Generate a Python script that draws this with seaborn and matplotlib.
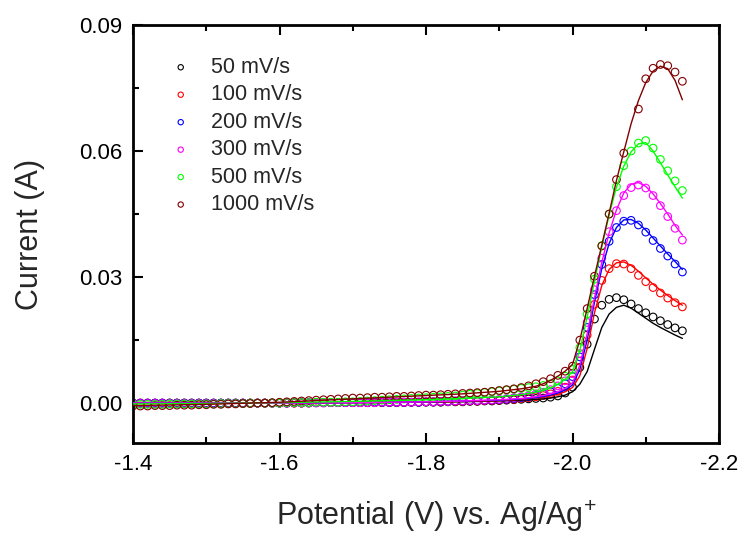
import numpy as np
import pandas as pd
import matplotlib
matplotlib.use('Agg')
import matplotlib.pyplot as plt
import seaborn as sns
from matplotlib.ticker import MultipleLocator, FormatStrFormatter

# potential grid of the measured points (V vs. Ag/Ag+)
potential = [
    -1.40, -1.41, -1.42, -1.43, -1.44, -1.45, -1.46, -1.47, -1.48, -1.49,
    -1.50, -1.51, -1.52, -1.53, -1.54, -1.55, -1.56, -1.57, -1.58, -1.59,
    -1.60, -1.61, -1.62, -1.63, -1.64, -1.65, -1.66, -1.67, -1.68, -1.69,
    -1.70, -1.71, -1.72, -1.73, -1.74, -1.75, -1.76, -1.77, -1.78, -1.79,
    -1.80, -1.81, -1.82, -1.83, -1.84, -1.85, -1.86, -1.87, -1.88, -1.89,
    -1.90, -1.91, -1.92, -1.93, -1.94, -1.95, -1.96, -1.97, -1.98, -1.99,
    -2.00, -2.01, -2.02, -2.03, -2.04, -2.05, -2.06, -2.07, -2.08, -2.09,
    -2.10, -2.11, -2.12, -2.13, -2.14, -2.15,
]

# measured current (A)
i_50 = [
    0.0000, 0.0000, 0.0000, 0.0000, 0.0000, 0.0000, 0.0000, 0.0000, 0.0000, 0.0000,
    0.0000, 0.0000, 0.0000, 0.0000, 0.0000, 0.0000, 0.0000, 0.0000, 0.0000, 0.0000,
    0.0000, 0.0000, 0.0000, 0.0000, 0.0000, 0.0001, 0.0001, 0.0001, 0.0001, 0.0001,
    0.0001, 0.0001, 0.0001, 0.0001, 0.0001, 0.0001, 0.0001, 0.0001, 0.0002, 0.0002,
    0.0002, 0.0002, 0.0002, 0.0003, 0.0003, 0.0003, 0.0004, 0.0004, 0.0005, 0.0005,
    0.0006, 0.0007, 0.0008, 0.0009, 0.0010, 0.0011, 0.0012, 0.0014, 0.0017, 0.0024,
    0.0038, 0.0085, 0.0140, 0.0200, 0.0233, 0.0247, 0.0251, 0.0246, 0.0236, 0.0225,
    0.0215, 0.0205, 0.0196, 0.0187, 0.0179, 0.0172,
]
i_100 = [
    0.0000, 0.0000, 0.0000, 0.0000, 0.0000, 0.0000, 0.0000, 0.0000, 0.0000, 0.0000,
    0.0000, 0.0000, 0.0000, 0.0000, 0.0000, 0.0000, 0.0000, 0.0000, 0.0000, 0.0000,
    0.0000, 0.0000, 0.0000, 0.0000, 0.0001, 0.0001, 0.0001, 0.0001, 0.0001, 0.0001,
    0.0001, 0.0001, 0.0001, 0.0001, 0.0002, 0.0002, 0.0002, 0.0002, 0.0002, 0.0002,
    0.0003, 0.0003, 0.0003, 0.0004, 0.0004, 0.0004, 0.0005, 0.0005, 0.0006, 0.0006,
    0.0007, 0.0008, 0.0009, 0.0011, 0.0013, 0.0015, 0.0018, 0.0022, 0.0028, 0.0038,
    0.0055, 0.0100, 0.0162, 0.0235, 0.0292, 0.0320, 0.0332, 0.0331, 0.0320, 0.0304,
    0.0289, 0.0275, 0.0262, 0.0250, 0.0239, 0.0229,
]
i_200 = [
    0.0000, 0.0000, 0.0000, 0.0000, 0.0000, 0.0000, 0.0000, 0.0000, 0.0000, 0.0000,
    0.0000, 0.0000, 0.0000, 0.0000, 0.0000, 0.0000, 0.0000, 0.0000, 0.0000, 0.0000,
    0.0000, 0.0000, 0.0001, 0.0001, 0.0001, 0.0001, 0.0001, 0.0001, 0.0001, 0.0001,
    0.0001, 0.0001, 0.0001, 0.0002, 0.0002, 0.0002, 0.0002, 0.0002, 0.0002, 0.0002,
    0.0003, 0.0003, 0.0004, 0.0004, 0.0005, 0.0005, 0.0006, 0.0006, 0.0007, 0.0007,
    0.0008, 0.0009, 0.0011, 0.0013, 0.0015, 0.0018, 0.0022, 0.0027, 0.0035, 0.0046,
    0.0063, 0.0110, 0.0180, 0.0258, 0.0330, 0.0385, 0.0418, 0.0433, 0.0435, 0.0424,
    0.0407, 0.0387, 0.0368, 0.0350, 0.0331, 0.0312,
]
i_300 = [
    -0.0001, -0.0001, -0.0001, -0.0001, -0.0001, -0.0001, -0.0001, -0.0001, -0.0001, -0.0001,
    -0.0001, -0.0001, -0.0001, -0.0001, -0.0001, -0.0001, 0.0000, 0.0000, 0.0000, 0.0000,
    0.0000, 0.0000, 0.0000, 0.0000, 0.0000, 0.0000, 0.0000, 0.0001, 0.0001, 0.0001,
    0.0001, 0.0001, 0.0001, 0.0001, 0.0002, 0.0002, 0.0002, 0.0002, 0.0002, 0.0003,
    0.0003, 0.0003, 0.0004, 0.0004, 0.0005, 0.0005, 0.0006, 0.0006, 0.0007, 0.0008,
    0.0009, 0.0011, 0.0013, 0.0015, 0.0018, 0.0022, 0.0026, 0.0032, 0.0041, 0.0053,
    0.0070, 0.0118, 0.0192, 0.0270, 0.0345, 0.0408, 0.0458, 0.0494, 0.0513, 0.0519,
    0.0512, 0.0494, 0.0470, 0.0444, 0.0416, 0.0388,
]
i_500 = [
    -0.0003, -0.0003, -0.0003, -0.0003, -0.0003, -0.0002, -0.0002, -0.0002, -0.0002, -0.0002,
    -0.0002, -0.0002, -0.0001, -0.0001, -0.0001, -0.0001, 0.0000, 0.0000, 0.0000, 0.0000,
    0.0000, 0.0001, 0.0001, 0.0001, 0.0001, 0.0002, 0.0002, 0.0002, 0.0002, 0.0003,
    0.0003, 0.0004, 0.0005, 0.0006, 0.0007, 0.0008, 0.0009, 0.0010, 0.0011, 0.0012,
    0.0013, 0.0014, 0.0015, 0.0016, 0.0017, 0.0019, 0.0021, 0.0023, 0.0025, 0.0027,
    0.0029, 0.0031, 0.0033, 0.0035, 0.0037, 0.0039, 0.0042, 0.0046, 0.0053, 0.0064,
    0.0080, 0.0132, 0.0212, 0.0295, 0.0375, 0.0450, 0.0515, 0.0565, 0.0600, 0.0619,
    0.0625, 0.0607, 0.0580, 0.0553, 0.0529, 0.0506,
]
i_1000 = [
    -0.0007, -0.0007, -0.0007, -0.0006, -0.0006, -0.0006, -0.0005, -0.0005, -0.0005, -0.0004,
    -0.0004, -0.0003, -0.0003, -0.0002, -0.0002, -0.0001, -0.0001, 0.0000, 0.0000, 0.0001,
    0.0002, 0.0003, 0.0004, 0.0005, 0.0006, 0.0007, 0.0008, 0.0009, 0.0010, 0.0011,
    0.0012, 0.0012, 0.0013, 0.0014, 0.0014, 0.0015, 0.0016, 0.0016, 0.0017, 0.0018,
    0.0019, 0.0019, 0.0020, 0.0021, 0.0022, 0.0023, 0.0024, 0.0025, 0.0026, 0.0028,
    0.0030, 0.0032, 0.0034, 0.0037, 0.0041, 0.0046, 0.0051, 0.0058, 0.0066, 0.0076,
    0.0088, 0.0150, 0.0225, 0.0302, 0.0374, 0.0450, 0.0532, 0.0595, np.nan, 0.0700,
    0.0772, 0.0797, 0.0806, 0.0803, 0.0788, 0.0766,
]

# potential grid of the fitted curves
fit_potential = [
    -1.40, -1.50, -1.60, -1.70, -1.80, -1.85, -1.90, -1.93,
    -1.95, -1.96, -1.97, -1.98, -1.99, -2.00, -2.01, -2.02, -2.03, -2.04,
    -2.05, -2.06, -2.07, -2.08, -2.09, -2.10, -2.11, -2.12, -2.13, -2.14, -2.15,
]
fit_50 = [
    0.0000, 0.0000, 0.0000, 0.0001, 0.0002, 0.0003, 0.0005, 0.0007,
    0.0009, 0.0010, 0.0012, 0.0015, 0.0019, 0.0027, 0.0045, 0.0075, 0.0128, 0.0180,
    0.0212, 0.0228, 0.0233, 0.0226, 0.0214, 0.0202, 0.0190, 0.0180, 0.0171, 0.0162, 0.0154,
]
fit_100 = [
    0.0000, 0.0000, 0.0000, 0.0001, 0.0003, 0.0004, 0.0006, 0.0009,
    0.0012, 0.0014, 0.0017, 0.0021, 0.0027, 0.0037, 0.0065, 0.0130, 0.0215, 0.0280,
    0.0318, 0.0334, 0.0336, 0.0328, 0.0314, 0.0298, 0.0283, 0.0269, 0.0256, 0.0244, 0.0233,
]
fit_200 = [
    0.0000, 0.0000, 0.0000, 0.0001, 0.0003, 0.0005, 0.0007, 0.0010,
    0.0013, 0.0016, 0.0019, 0.0024, 0.0031, 0.0043, 0.0080, 0.0150, 0.0240, 0.0320,
    0.0380, 0.0418, 0.0436, 0.0437, 0.0428, 0.0412, 0.0393, 0.0374, 0.0355, 0.0337, 0.0318,
]
fit_300 = [
    0.0000, 0.0000, 0.0000, 0.0001, 0.0003, 0.0005, 0.0008, 0.0011,
    0.0015, 0.0018, 0.0022, 0.0027, 0.0035, 0.0048, 0.0090, 0.0165, 0.0250, 0.0335,
    0.0405, 0.0460, 0.0500, 0.0521, 0.0525, 0.0516, 0.0498, 0.0475, 0.0450, 0.0423, 0.0400,
]
fit_500 = [
    -0.0002, -0.0001, 0.0001, 0.0004, 0.0008, 0.0011, 0.0015, 0.0020,
    0.0026, 0.0030, 0.0036, 0.0045, 0.0057, 0.0075, 0.0125, 0.0205, 0.0290, 0.0372,
    0.0448, 0.0514, 0.0564, 0.0598, 0.0617, 0.0620, 0.0600, 0.0572, 0.0543, 0.0515, 0.0488,
]
fit_1000 = [
    -0.0006, -0.0003, 0.0002, 0.0010, 0.0018, 0.0022, 0.0028, 0.0034,
    0.0040, 0.0046, 0.0054, 0.0064, 0.0076, 0.0092, 0.0150, 0.0225, 0.0302, 0.0376,
    0.0452, 0.0530, 0.0598, 0.0665, 0.0720, 0.0763, 0.0790, 0.0802, 0.0796, 0.0768, 0.0722,
]

labels = ['50 mV/s', '100 mV/s', '200 mV/s', '300 mV/s', '500 mV/s', '1000 mV/s']
colors = ['#000000', '#FF0000', '#0000FF', '#FF00FF', '#00FF00', '#800000']
measured = [i_50, i_100, i_200, i_300, i_500, i_1000]
fitted = [fit_50, fit_100, fit_200, fit_300, fit_500, fit_1000]

sns.set_style('ticks')
plt.rcParams['font.family'] = ['Liberation Sans', 'DejaVu Sans']
plt.rcParams['axes.unicode_minus'] = False
plt.rcParams['mathtext.fontset'] = 'custom'
plt.rcParams['mathtext.rm'] = 'Liberation Sans'

fig = plt.figure(figsize=(7.42, 5.33), dpi=100)
ax = fig.add_axes([133 / 742, 90 / 533, 586 / 742, 418 / 533])

for name, color, y, yfit in zip(labels, colors, measured, fitted):
    df = pd.DataFrame({'Potential': potential, 'Current': y})
    sns.scatterplot(x='Potential', y='Current', data=df, ax=ax, marker='o', s=30,
                    facecolor='none', edgecolor=color, linewidth=0.8, label=name, zorder=2)
    ax.plot(fit_potential, yfit, color=color, linewidth=1.0, zorder=3)

ax.set_xlim(-1.4, -2.2)
ax.set_ylim(-0.0095, 0.09)
ax.xaxis.set_major_locator(MultipleLocator(0.2))
ax.xaxis.set_minor_locator(MultipleLocator(0.1))
ax.xaxis.set_major_formatter(FormatStrFormatter('%.1f'))
ax.yaxis.set_major_locator(MultipleLocator(0.03))
ax.yaxis.set_minor_locator(MultipleLocator(0.015))
ax.yaxis.set_major_formatter(FormatStrFormatter('%.2f'))

ax.tick_params(which='both', direction='in', top=True, right=False, width=1.5,
               colors='black', labelsize=16)
ax.tick_params(which='major', length=7, pad=8)
ax.tick_params(which='minor', length=4)
for sp in ax.spines.values():
    sp.set_linewidth(2)
    sp.set_color('black')

ax.set_xlabel('Potential (V) vs. Ag/Ag$^{+}$', fontsize=22)
ax.xaxis.set_label_coords(0.517, -0.133, transform=ax.transAxes)
ax.xaxis.label.set_va('top')
ax.set_ylabel('Current (A)', fontsize=22, labelpad=24)

ax.legend(loc='upper left', bbox_to_anchor=(0.03, 0.97), frameon=False, fontsize=15.5,
          markerscale=0.7, handletextpad=0.9, labelspacing=0.3, handlelength=1.0)

fig.savefig('out.png', dpi=100)
